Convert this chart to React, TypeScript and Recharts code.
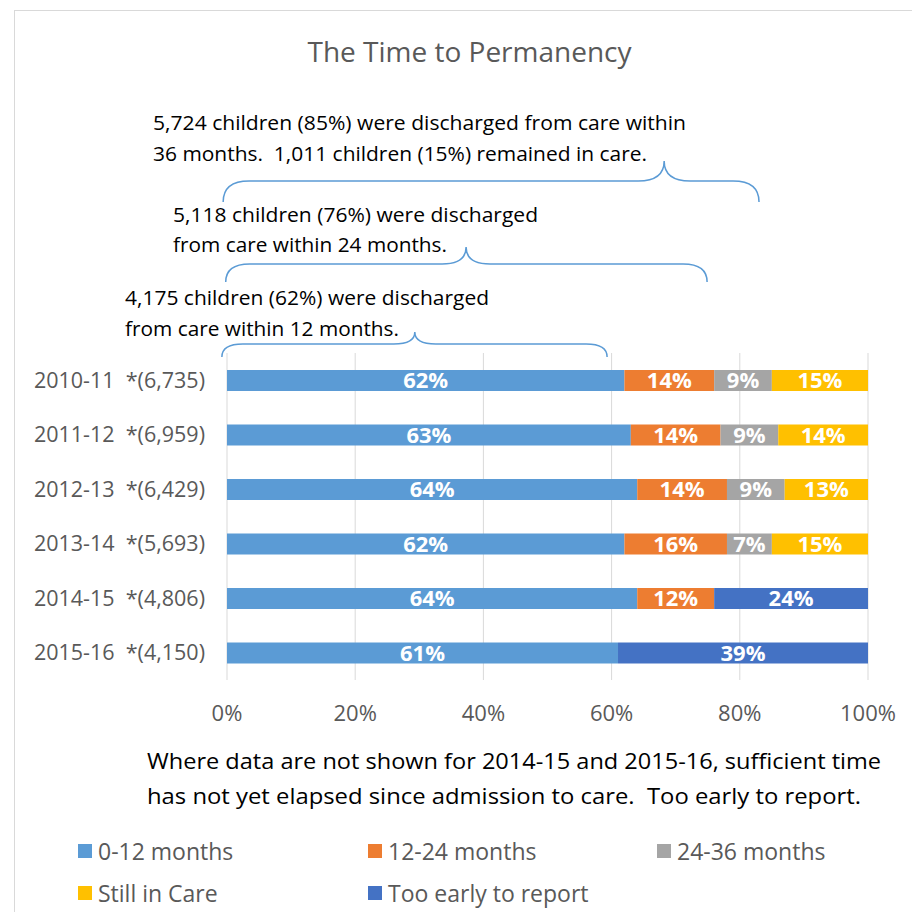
import React from 'react';
import { BarChart, Bar, XAxis, YAxis, CartesianGrid, LabelList, Legend } from 'recharts';

// ---------- data ----------
const years = ['2010-11', '2011-12', '2012-13', '2013-14', '2014-15', '2015-16'];
const cohortSizes = ['6,735', '6,959', '6,429', '5,693', '4,806', '4,150'];
const months0to12 = [62, 63, 64, 62, 64, 61];
const months12to24 = [14, 14, 14, 16, 12, null];
const months24to36 = [9, 9, 9, 7, null, null];
const stillInCare = [15, 14, 13, 15, null, null];
const tooEarly = [null, null, null, null, 24, 39];
const xTicks = [0, 20, 40, 60, 80, 100];

const seriesKeys = ['m0_12', 'm12_24', 'm24_36', 'still', 'early'];
const seriesNames = ['0-12 months', '12-24 months', '24-36 months', 'Still in Care', 'Too early to report'];
const seriesColors = ['#5B9BD5', '#ED7D31', '#A5A5A5', '#FFC000', '#4472C4'];

const titleText = 'The Time to Permanency';
const annotation36 = [
  '5,724 children (85%) were discharged from care within',
  '36 months.  1,011 children (15%) remained in care.',
];
const annotation24 = ['5,118 children (76%) were discharged', 'from care within 24 months.'];
const annotation12 = ['4,175 children (62%) were discharged', 'from care within 12 months.'];
const noteLines = [
  'Where data are not shown for 2014-15 and 2015-16, sufficient time',
  'has not yet elapsed since admission to care.  Too early to report.',
];

// ---------- layout ----------
const W = 912;
const H = 912;
const PLOT_LEFT = 227;
const PLOT_RIGHT = 868;
const PLOT_TOP = 353;
const PLOT_BOTTOM = 680;
const X_AXIS_H = 30;
const FONT = '"Open Sans", "Liberation Sans", sans-serif';
const pctToX = (p: number) => PLOT_LEFT + (p / 100) * (PLOT_RIGHT - PLOT_LEFT);

const data = years.map((y, i) => ({
  label: `${y}  *(${cohortSizes[i]})`,
  m0_12: months0to12[i],
  m12_24: months12to24[i],
  m24_36: months24to36[i],
  still: stillInCare[i],
  early: tooEarly[i],
}));

// annotation layout (x start, baselines, line widths, brace in axis percent + y levels)
const annotations = [
  { lines: annotation36, x: 153, ys: [129.5, 160.5], widths: [533, 494], brace: { p0: -0.6, p1: 83.0, pt: 68.2, yb: 202, yh: 181, yt: 161, r: 26 } },
  { lines: annotation24, x: 173, ys: [221.5, 252], widths: [365, 274], brace: { p0: -0.2, p1: 74.9, pt: 37.3, yb: 282, yh: 264, yt: 247, r: 24 } },
  { lines: annotation12, x: 125, ys: [305, 335.5], widths: [364, 274], brace: { p0: -0.8, p1: 59.3, pt: 29.3, yb: 357, yh: 344, yt: 332, r: 21 } },
];

const bracePath = (b: { p0: number; p1: number; pt: number; yb: number; yh: number; yt: number; r: number }) => {
  const x0 = pctToX(b.p0);
  const x1 = pctToX(b.p1);
  const xt = pctToX(b.pt);
  const r = b.r;
  return [
    `M ${x0} ${b.yb}`,
    `Q ${x0} ${b.yh} ${x0 + r} ${b.yh}`,
    `L ${xt - r} ${b.yh}`,
    `Q ${xt} ${b.yh} ${xt} ${b.yt}`,
    `Q ${xt} ${b.yh} ${xt + r} ${b.yh}`,
    `L ${x1 - r} ${b.yh}`,
    `Q ${x1} ${b.yh} ${x1} ${b.yb}`,
  ].join(' ');
};

const YTick = (props: any) => {
  const { x, y, payload } = props;
  return (
    <text
      x={x}
      y={y}
      dy="0.36em"
      textAnchor="end"
      fill="#595959"
      fontSize={21.5}
      fontFamily={FONT}
      xmlSpace="preserve"
      style={{ whiteSpace: 'pre' }}
    >
      {payload.value}
    </text>
  );
};

const LegendContent = (props: any) => {
  const payload = props.payload || [];
  return (
    <div
      style={{
        display: 'grid',
        gridTemplateColumns: '290px 289px 250px',
        paddingLeft: 78,
        fontFamily: FONT,
      }}
    >
      {payload.map((item: any) => (
        <div key={item.value} style={{ display: 'flex', alignItems: 'center', height: 42 }}>
          <span style={{ width: 14, height: 14, background: item.color, marginRight: 6, flex: 'none' }} />
          <span style={{ fontSize: 23, color: '#595959', lineHeight: 1, whiteSpace: 'nowrap' }}>{item.value}</span>
        </div>
      ))}
    </div>
  );
};

const fmt = (v: any) => (v === null || v === undefined || v === 0 ? '' : `${v}%`);

export default function App() {
  return (
    <div style={{ position: 'absolute', left: 0, top: 0, width: W, height: H, overflow: 'hidden', background: '#fff', fontFamily: FONT }}>
      <div style={{ position: 'absolute', left: 14, top: 10, width: 1000, height: 1000, border: '1.5px solid #d9d9d9', boxSizing: 'border-box' }} />
      <div style={{ position: 'absolute', left: 0, top: 0 }}>
        <BarChart
          width={W}
          height={H}
          data={data}
          layout="vertical"
          margin={{ top: PLOT_TOP, right: W - PLOT_RIGHT, bottom: H - PLOT_BOTTOM - X_AXIS_H, left: 0 }}
        >
          <CartesianGrid horizontal={false} vertical={true} stroke="#d9d9d9" strokeWidth={1} />
          <XAxis
            type="number"
            domain={[0, 100]}
            ticks={xTicks}
            tickFormatter={(v: number) => `${v}%`}
            axisLine={false}
            tickLine={false}
            tickSize={0}
            tickMargin={25}
            height={X_AXIS_H}
            tick={{ fill: '#595959', fontSize: 22, fontFamily: FONT }}
            interval={0}
          />
          <YAxis
            type="category"
            dataKey="label"
            width={PLOT_LEFT}
            axisLine={false}
            tickLine={false}
            tickSize={0}
            tickMargin={22}
            tick={<YTick />}
            interval={0}
          />
          {seriesKeys.map((k, i) => (
            <Bar key={k} dataKey={k} name={seriesNames[i]} stackId="a" fill={seriesColors[i]} barSize={21} isAnimationActive={false}>
              <LabelList
                dataKey={k}
                position="center"
                formatter={fmt}
                fill="#ffffff"
                fontSize={22}
                fontWeight={700}
                fontFamily={FONT}
              />
            </Bar>
          ))}
          <Legend
            layout="horizontal"
            verticalAlign="middle"
            align="center"
            content={<LegendContent />}
            wrapperStyle={{ left: 0, top: 830, width: W }}
          />
        </BarChart>
      </div>
      <svg width={W} height={H} style={{ position: 'absolute', left: 0, top: 0, pointerEvents: 'none' }}>
        <text x={469.5} y={62} textAnchor="middle" fontSize={28} fill="#595959" fontFamily={FONT}>
          {titleText}
        </text>
        {annotations.map((a, ai) => (
          <g key={ai}>
            {a.lines.map((line, li) => (
              <text
                key={li}
                x={a.x}
                y={a.ys[li]}
                fontSize={20.5}
                fill="#000"
                fontFamily={FONT}
                textLength={a.widths[li]}
                lengthAdjust="spacingAndGlyphs"
                xmlSpace="preserve"
                style={{ whiteSpace: 'pre' }}
              >
                {line}
              </text>
            ))}
            <path d={bracePath(a.brace)} fill="none" stroke="#5B9BD5" strokeWidth={1.5} />
          </g>
        ))}
        {noteLines.map((line, li) => (
          <text
            key={li}
            x={147}
            y={[769, 804][li]}
            fontSize={21}
            fill="#000"
            fontFamily={FONT}
            textLength={[734, 714][li]}
            lengthAdjust="spacingAndGlyphs"
            xmlSpace="preserve"
            style={{ whiteSpace: 'pre' }}
          >
            {line}
          </text>
        ))}
      </svg>
    </div>
  );
}
